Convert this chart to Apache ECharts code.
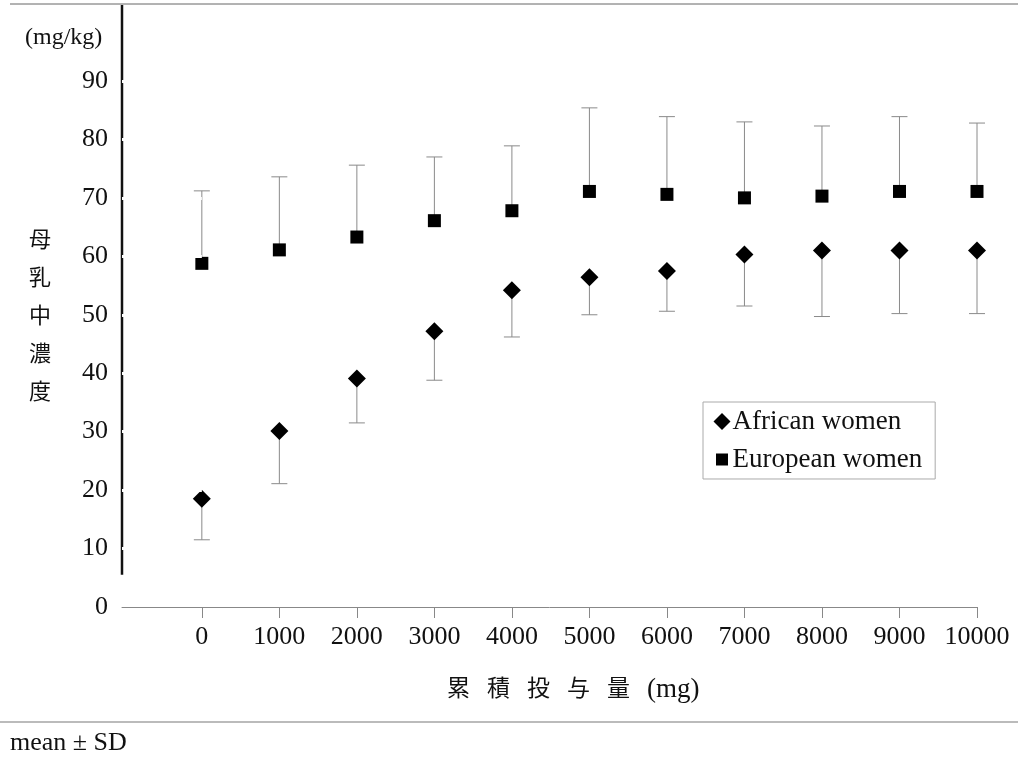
<!DOCTYPE html>
<html>
<head>
<meta charset="utf-8">
<script src="https://cdn.jsdelivr.net/npm/echarts@6/dist/echarts.min.js"></script>
<style>html,body{margin:0;padding:0;background:#fff}#c{width:1018px;height:758px}</style>
</head>
<body>
<div id="c"></div>
<script>
// ---- data ----
const doses = [0, 1000, 2000, 3000, 4000, 5000, 6000, 7000, 8000, 9000, 10000];
const africanMean  = [18.5, 30.1, 39.1, 47.2, 54.2, 56.4, 57.5, 60.3, 61.0, 61.0, 61.0];
const africanLower = [11.5, 21.1, 31.5, 38.8, 46.2, 50.0, 50.6, 51.5, 49.7, 50.2, 50.2];
const europeanMean  = [58.8, 61.1, 63.3, 66.1, 67.8, 71.1, 70.6, 70.0, 70.3, 71.1, 71.1];
const europeanUpper = [71.2, 73.6, 75.6, 77.0, 78.9, 85.4, 83.9, 83.0, 82.3, 83.9, 82.8];
const yTickLabels = [0, 10, 20, 30, 40, 50, 60, 70, 80, 90];
const yTickMarks = [10, 20, 30, 40, 50, 60, 70, 80, 90];
const seriesNames = ['African women', 'European women'];
const yAxisExtent = [5.5, 103];   // drawn vertical axis line span (value units)
const xStart = -1030;

const SERIF = '"Liberation Serif", "DejaVu Serif", "Noto Sans CJK JP", serif';
const CJK = '"Liberation Serif", "Noto Sans CJK JP", serif';

const chart = echarts.init(document.getElementById('c'), null, {renderer: 'canvas'});

function errBar() {
  return function (params, api) {
    const x = api.value(0), m = api.value(1), b = api.value(2);
    const p0 = api.coord([x, m]);
    const p1 = api.coord([x, b]);
    const half = 8;
    const style = {stroke: '#8a8a8a', lineWidth: 1};
    return {
      type: 'group',
      children: [
        {type: 'line', shape: {x1: p0[0], y1: p0[1], x2: p1[0], y2: p1[1]}, style: style},
        {type: 'line', shape: {x1: p1[0] - half, y1: p1[1], x2: p1[0] + half, y2: p1[1]}, style: style}
      ]
    };
  };
}

const yAxisCommon = {
  type: 'value', min: 0, max: 103, interval: 10,
  position: 'left', offset: 0,
  axisLine: {show: false},
  splitLine: {show: false},
  z: 5
};

chart.setOption({
  animation: false,
  backgroundColor: '#fff',
  grid: {left: 122, right: 41, top: 5, bottom: 151, containLabel: false},
  title: [
    {text: '(mg/kg)', left: 25, top: 26, padding: 0, textStyle: {fontFamily: SERIF, fontSize: 24, fontWeight: 'normal', color: '#111'}},
    {text: '母\n乳\n中\n濃\n度', left: 29, top: 222, padding: 0, textStyle: {fontFamily: CJK, fontSize: 22, fontWeight: 'normal', color: '#111', lineHeight: 38}},
    {text: '{c|累}{c|積}{c|投}{c|与}{c|量}{m|(mg)}', left: 447, top: 676, padding: 0,
      textStyle: {fontFamily: CJK, fontSize: 23, fontWeight: 'normal', color: '#111',
        rich: {
          c: {fontFamily: CJK, fontSize: 23, color: '#111', padding: [0, 17, 0, 0], width: 23},
          m: {fontFamily: SERIF, fontSize: 27, color: '#111', padding: [0, 0, 0, 0]}
        }}},
    {text: 'mean ± SD', left: 10, top: 730, padding: 0, textStyle: {fontFamily: SERIF, fontSize: 26, fontWeight: 'normal', color: '#111'}}
  ],
  graphic: [
    {type: 'line', shape: {x1: 10, y1: 4, x2: 1018, y2: 4}, style: {stroke: '#666', lineWidth: 1}},
    {type: 'line', shape: {x1: 0, y1: 722, x2: 1018, y2: 722}, style: {stroke: '#bbb', lineWidth: 2}}
  ],
  legend: {
    orient: 'vertical', left: 703, top: 402,
    padding: [6, 13, 6, 8],
    borderColor: '#aaa', borderWidth: 1,
    itemGap: 11, itemWidth: 17, itemHeight: 17,
    textStyle: {fontFamily: SERIF, fontSize: 27, color: '#111', padding: [0, 0, 0, -3]},
    data: [
      {name: seriesNames[0], icon: 'diamond', itemStyle: {color: '#000'}},
      {name: seriesNames[1], icon: 'rect', itemStyle: {color: '#000', borderColor: '#fff', borderWidth: 5}}
    ]
  },
  xAxis: {
    type: 'value', min: xStart, max: 10000,
    axisLine: {lineStyle: {color: '#888', width: 1}},
    axisTick: {customValues: doses, length: 11, lineStyle: {color: '#888'}},
    axisLabel: {customValues: doses, margin: 17, fontFamily: SERIF, fontSize: 26, color: '#111',
      formatter: v => String(v)},
    splitLine: {show: false}
  },
  yAxis: [
    Object.assign({}, yAxisCommon, {
      axisTick: {customValues: yTickMarks, length: 7, lineStyle: {color: '#fff', width: 3}},
      axisLabel: {customValues: yTickLabels, margin: 14, fontFamily: SERIF, fontSize: 26, color: '#111',
        formatter: v => String(v)}
    }),
    Object.assign({}, yAxisCommon, {
      axisTick: {customValues: yTickMarks, inside: true, length: 7, lineStyle: {color: '#fff', width: 3}},
      axisLabel: {show: false}
    })
  ],
  series: [
    {
      type: 'line', name: 'axis', z: 1, silent: true, clip: false,
      symbol: 'none',
      data: yAxisExtent.map(v => [xStart, v]),
      lineStyle: {color: '#111', width: 2.5}
    },
    {
      type: 'scatter', name: seriesNames[0], z: 3,
      symbol: 'diamond', symbolSize: 18,
      itemStyle: {color: '#000', opacity: 1},
      data: doses.map((d, i) => [d, africanMean[i]])
    },
    {
      type: 'scatter', name: seriesNames[1], z: 3,
      symbol: 'rect', symbolSize: 13,
      itemStyle: {color: '#000', opacity: 1},
      data: doses.map((d, i) => [d, europeanMean[i]])
    },
    {
      type: 'custom', name: seriesNames[0], z: 2, clip: false,
      itemStyle: {color: '#000'},
      renderItem: errBar(),
      data: doses.map((d, i) => [d, africanMean[i], africanLower[i]])
    },
    {
      type: 'custom', name: seriesNames[1], z: 2, clip: false,
      itemStyle: {color: '#000'},
      renderItem: errBar(),
      data: doses.map((d, i) => [d, europeanMean[i], europeanUpper[i]])
    }
  ]
});
</script>
</body>
</html>
